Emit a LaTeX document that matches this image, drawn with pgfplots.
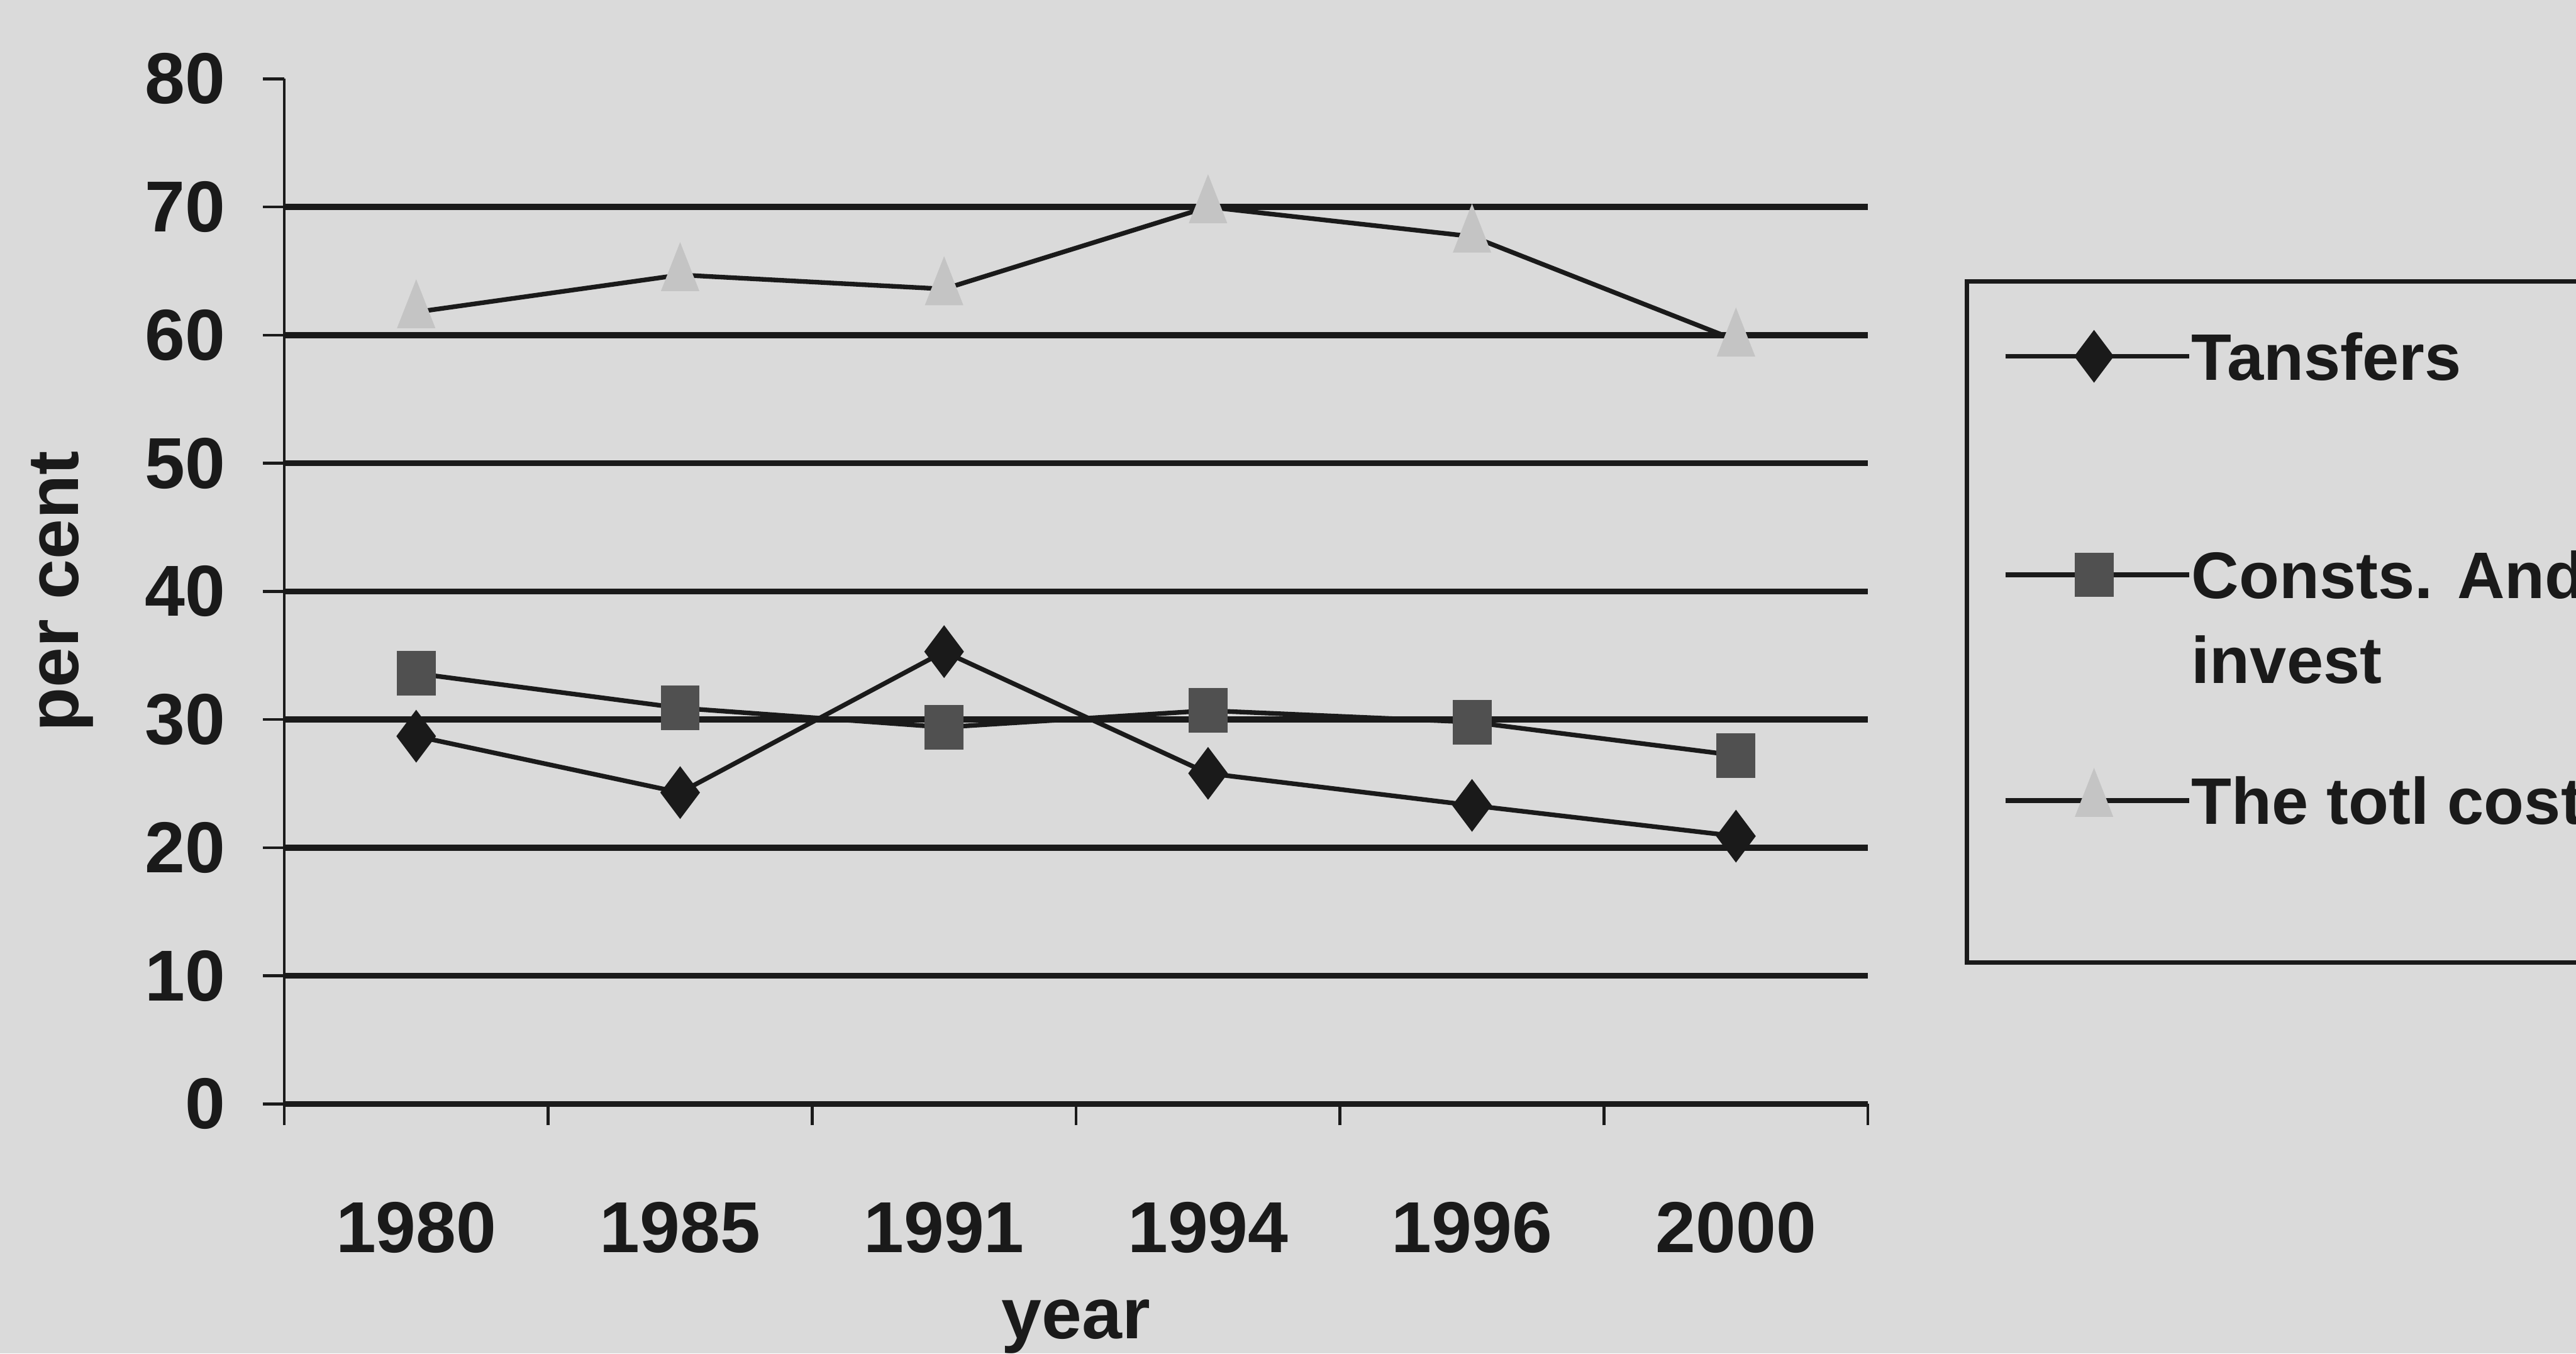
\documentclass[border=0pt]{standalone}
\usepackage{fontspec}
\setmainfont{Liberation Sans}
\usepackage{pgfplots}
\pgfplotsset{compat=1.18}

\definecolor{paper}{HTML}{DADADA}
\definecolor{ink}{HTML}{1A1A1A}
\definecolor{sqfill}{HTML}{505050}
\definecolor{trifill}{HTML}{C4C4C4}

\newcommand\tickfont{\fontsize{12.5}{15}\selectfont\bfseries}
\newcommand\legfont{\fontsize{11.4}{14.7}\selectfont\bfseries}

\begin{document}
\begin{tikzpicture}
\fill[paper] (0mm,0mm) rectangle (156.8mm,82.4mm);
\useasboundingbox (0mm,0mm) rectangle (156.8mm,82.4mm);
\begin{axis}[
  at={(17.3mm,15.2mm)}, anchor=south west,
  scale only axis, width=96.4mm, height=62.4mm,
  xmin=-0.5, xmax=5.5, ymin=0, ymax=80,
  axis x line=bottom, axis y line=left, separate axis lines,
  x axis line style={-, ink, line width=1.05pt},
  y axis line style={-, ink, line width=0.5pt},
  tick align=outside, major tick length=1.3mm,
  tick style={ink, line width=0.5pt},
  xtick={-0.5,0.5,...,5.5},
  xticklabels={1980,1985,1991,1994,1996,2000},
  x tick label as interval,
  ytick={0,10,...,80},
  extra y ticks={10,20,...,70},
  extra y tick labels={},
  extra y tick style={grid=major, tick style={draw=none}},
  major grid style={ink, line width=1.05pt},
  /pgf/number format/assume math mode=true,
  tick label style={font=\tickfont, text=ink},
  yticklabel style={inner sep=0pt, xshift=-2.2mm},
  xticklabel style={inner sep=0pt, yshift=-4.6mm},
  xlabel={year}, ylabel={per cent},
  every axis x label/.style={at={(axis description cs:0.5,0)}, anchor=base, yshift=-14.3mm, font=\tickfont, text=ink},
  every axis y label/.style={at={(axis description cs:0,0.5)}, xshift=-13.5mm, rotate=90, anchor=center, font=\tickfont, text=ink},
  every axis plot/.append style={ink, line width=0.8pt},
  legend style={
    at={(axis description cs:1.061,0.8045)}, anchor=north west,
    draw=ink, line width=0.8pt, fill=none,
    inner xsep=2.2mm, inner ysep=3.0mm,
    cells={anchor=base west},
    nodes={inner sep=0pt, text depth=, font=\legfont, text=ink},
    column sep=0mm, row sep=0pt,
  },
  legend image code/.code={\draw[mark repeat=2,mark phase=2] plot coordinates {(0mm,1.45mm) (5.4mm,1.45mm) (11.2mm,1.45mm)};},
]
% Tansfers
\addplot[mark=diamond*, mark size=1.55mm, mark options={fill=ink, draw=ink, line width=0.2pt}]
  coordinates {(0,28.7) (1,24.3) (2,35.3) (3,25.8) (4,23.3) (5,20.9)};
\addlegendentry{\parbox[t][13.3mm][t]{30mm}{Tansfers}}
% Consts. And invest
\addplot[mark=square*, mark size=1.15mm, mark options={fill=sqfill, draw=sqfill, line width=0.2pt, yscale=1.15}]
  coordinates {(0,33.6) (1,30.9) (2,29.4) (3,30.7) (4,29.8) (5,27.2)};
\addlegendentry{\parbox[t][13.3mm][t]{30mm}{Consts. And\\invest}}
% The totl cost
\addplot[mark=triangle*, mark size=1.9mm, mark options={fill=trifill, draw=trifill, line width=0.2pt, xscale=0.68}]
  coordinates {(0,61.8) (1,64.7) (2,63.6) (3,70.0) (4,67.7) (5,59.6)};
\addlegendentry{\parbox[t][8.3mm][t]{30mm}{The totl cost}}
\end{axis}
\end{tikzpicture}
\end{document}
